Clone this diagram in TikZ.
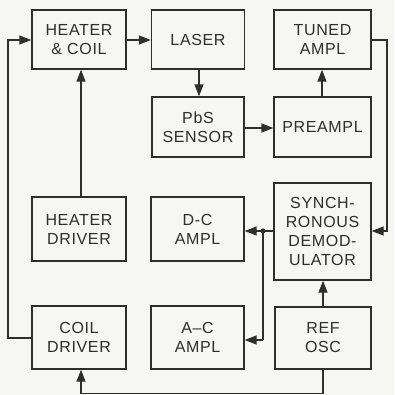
\documentclass[tikz,border=0pt]{standalone}
\usepackage{fontspec}
\setmainfont{Liberation Sans}[LetterSpace=4]
\usetikzlibrary{arrows.meta}
\definecolor{ink}{HTML}{2E2E2C}
\definecolor{paper}{HTML}{F6F6F2}
\tikzset{
  blk/.style={draw=ink, line width=1.4pt, fill=paper, align=center, text=ink,
    font=\fontsize{16}{19}\selectfont, inner sep=0pt},
  con/.style={draw=ink, line width=1.4pt, -{Triangle[length=12pt,width=9pt]}},
  wire/.style={draw=ink, line width=1.4pt},
}
\begin{document}
\begin{tikzpicture}[x=1pt,y=-1pt]
\fill[paper] (0,0) rectangle (394,395);
\useasboundingbox (0,0) rectangle (394,395);
\node[blk, minimum width=94pt, minimum height=59pt] (hc) at (79,39.5) {HEATER\\\& COIL};
\node[blk, minimum width=93pt, minimum height=59pt] (laser) at (198,39.5) {LASER};
\node[blk, minimum width=97pt, minimum height=59pt] (tuned) at (322.5,39.5) {TUNED\\AMPL};
\node[blk, minimum width=92pt, minimum height=60pt] (pbs) at (198,127) {PbS\\SENSOR};
\node[blk, minimum width=97pt, minimum height=60pt] (pre) at (322.5,127) {PREAMPL};
\node[blk, minimum width=97pt, minimum height=97pt] (syn) at (322.5,231.5) {SYNCH-\\RONOUS\\DEMOD-\\ULATOR};
\node[blk, minimum width=94pt, minimum height=64pt] (hd) at (79,229) {HEATER\\DRIVER};
\node[blk, minimum width=93pt, minimum height=64pt] (dc) at (197.5,229) {D-C\\AMPL};
\node[blk, minimum width=94pt, minimum height=63pt] (cd) at (79,337.5) {COIL\\DRIVER};
\node[blk, minimum width=93pt, minimum height=63pt] (ac) at (197.5,337.5) {A–C\\AMPL};
\node[blk, minimum width=96pt, minimum height=62pt] (ref) at (323,338) {REF\\OSC};
\coordinate (bus) at (263,231);
\coordinate (busb) at (263,340);
% connectors
\draw[con] (hd.north -| 81,0) -- (hc.south -| 81,0);
\draw[con] (hc.east |- 0,40) -- (laser.west |- 0,40);
\draw[con] (laser.south -| 199,0) -- (pbs.north -| 199,0);
\draw[con] (pbs.east |- 0,128) -- (pre.west |- 0,128);
\draw[con] (pre.north -| 322,0) -- (tuned.south -| 322,0);
\draw[con] (tuned.east |- 0,40) -- (387,40) -- (387,231) -- (syn.east |- 0,231);
\draw[wire] (syn.west |- 0,231) -- (bus) -- (busb);
\draw[con] (bus) -- (dc.east |- 0,231);
\draw[con] (busb) -- (ac.east |- 0,340);
\fill[ink] (bus) circle (2.6pt);
\draw[con] (ref.north -| 323,0) -- (syn.south -| 323,0);
\draw[con] (ref.south -| 323,0) -- (323,393.5) -- (81,393.5) -- (cd.south -| 81,0);
\draw[con] (cd.west |- 0,338) -- (8,338) -- (8,40) -- (hc.west |- 0,40);
\end{tikzpicture}
\end{document}
